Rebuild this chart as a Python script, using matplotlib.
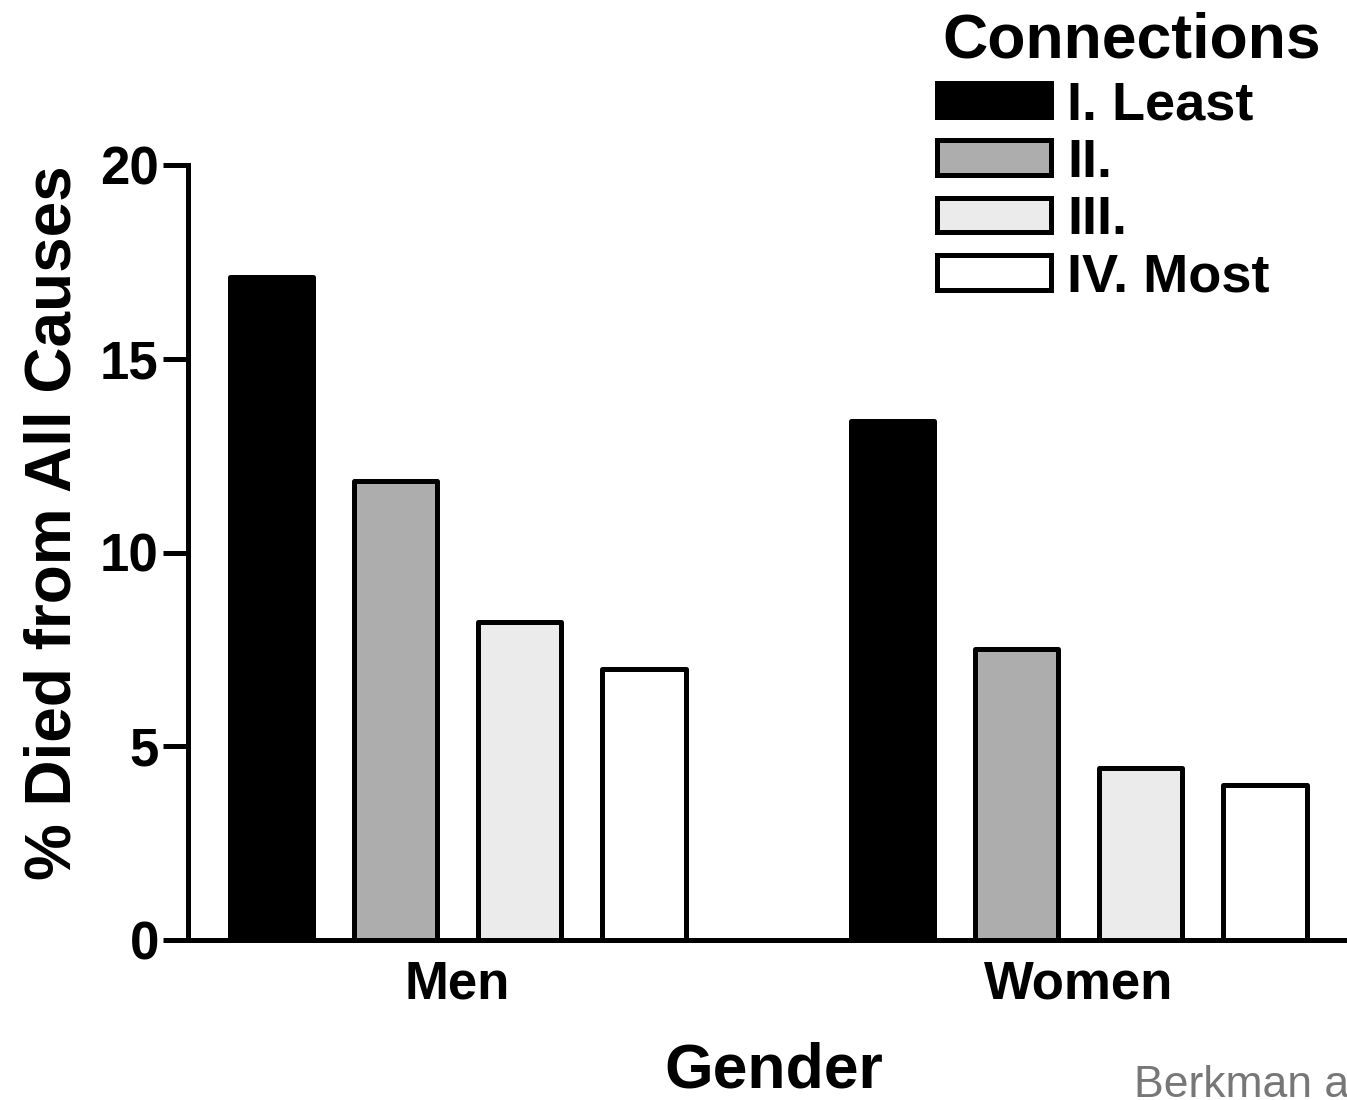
import matplotlib
matplotlib.use("Agg")
import matplotlib.pyplot as plt
import numpy as np

# ---- data ----
genders = ["Men", "Women"]
levels = ["I. Least", "II.", "III.", "IV. Most"]
values = {
    "I. Least": [17.1, 13.4],
    "II.": [11.85, 7.5],
    "III.": [8.2, 4.45],
    "IV. Most": [7.0, 4.0],
}
yticks = [0, 5, 10, 15, 20]
legend_title = "Connections"
xlabel = "Gender"
ylabel = "% Died from All Causes"
credit = "Berkman and Syme"

fills = ["#000000", "#adadad", "#ebebeb", "#ffffff"]

plt.rcParams['font.family'] = ['Liberation Sans', 'DejaVu Sans']

W, H = 1347, 1100
fig = plt.figure(figsize=(W / 100, H / 100), dpi=100)
ax_left, ax_right = 188, 1347
ax_top, ax_bot = 165, 940
ax = fig.add_axes([ax_left / W, 1 - ax_bot / H, (ax_right - ax_left) / W, (ax_bot - ax_top) / H])

x = np.arange(len(genders))
offsets = [-0.3, -0.1, 0.1, 0.3]
width = 0.134
for lvl, off, fc in zip(levels, offsets, fills):
    ax.bar(x + off, values[lvl], width=width, facecolor=fc, edgecolor="black",
           linewidth=3.6, label=lvl, joinstyle="round", zorder=3)

ax.set_xlim(-0.434, 1.432)
ax.set_ylim(0, 20)
ax.set_yticks(yticks)
ax.set_yticklabels([str(t) for t in yticks], fontsize=38, fontweight="bold")
ax.set_xticks(x)
ax.set_xticklabels(genders, fontsize=38, fontweight="bold")
ax.tick_params(axis="y", length=18, width=3.6, pad=3)
ax.tick_params(axis="x", length=0, pad=14)

for s in ["top", "right"]:
    ax.spines[s].set_visible(False)
ax.spines["left"].set_linewidth(3.6)
ax.spines["bottom"].set_linewidth(3.6)
ax.spines["left"].set_bounds(0, 20)

ax.set_ylabel(ylabel, fontsize=46, fontweight="bold")
ax.yaxis.set_label_coords(-0.0905, 0.538)
ax.set_xlabel(xlabel, fontsize=45, fontweight="bold")
ax.xaxis.set_label_coords((774 - ax_left) / (ax_right - ax_left), -0.131)

leg = ax.legend(loc="upper left", bbox_to_anchor=(937 / W, 1 - 80 / H),
                bbox_transform=fig.transFigure, frameon=False,
                fontsize=39, alignment="left",
                handlelength=2.1, handleheight=0.6, handletextpad=0.3,
                labelspacing=0.14, borderpad=0, borderaxespad=0)
for t in leg.get_texts():
    t.set_fontweight("bold")

fig.text(942 / W, 1 - 57 / H, legend_title, fontsize=45, fontweight="bold",
         ha="left", va="baseline")

fig.text(1134 / W, 1 - 1097 / H, credit, fontsize=32, color="#777777",
         ha="left", va="baseline")

fig.savefig("out.png", dpi=100)
